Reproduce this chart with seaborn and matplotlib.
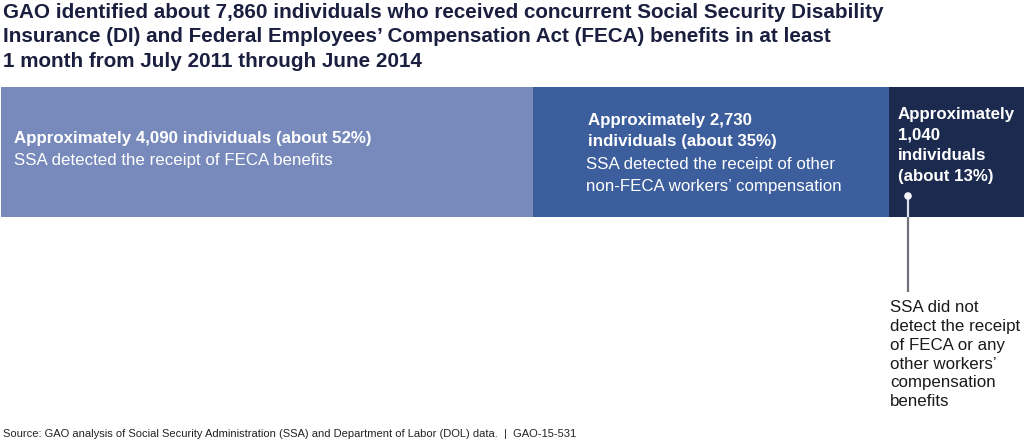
import pandas as pd
import seaborn as sns
import matplotlib.pyplot as plt

# ------------------------------------------
# data
# ------------------------------------------
groups = ["FECA detected", "Other WC detected", "Not detected"]
counts = [4090, 2730, 1040]
total = 7860
colors = ["#778abb", "#3c5e9c", "#1b2a4e"]

bold_labels = [
    ["Approximately 4,090 individuals (about 52%)"],
    ["Approximately 2,730", "individuals (about 35%)"],
    ["Approximately", "1,040", "individuals", "(about 13%)"],
]
sub_labels = [
    ["SSA detected the receipt of FECA benefits"],
    ["SSA detected the receipt of other", "non-FECA workers\u2019 compensation"],
    [],
]
callout = ["SSA did not", "detect the receipt", "of FECA or any",
           "other workers\u2019", "compensation", "benefits"]

title_lines = [
    "GAO identified about 7,860 individuals who received concurrent Social Security Disability",
    "Insurance (DI) and Federal Employees\u2019 Compensation Act (FECA) benefits in at least",
    "1 month from July 2011 through June 2014",
]
source = ("Source: GAO analysis of Social Security Administration (SSA) and "
          "Department of Labor (DOL) data.  |  GAO-15-531")

# cumulative ends for the stacked look (draw longest first)
cum = pd.Series(counts).cumsum().tolist()
df = pd.DataFrame({"group": groups, "end": cum, "color": colors})

sns.set_theme(style="white")
plt.rcParams["font.family"] = ["Liberation Sans", "DejaVu Sans"]

W, H = 1024, 442
fig = plt.figure(figsize=(W / 100, H / 100), dpi=100)

# bar axes (pixel box 1..1024 x 87..217)
ax = fig.add_axes([1 / W, 1 - 217 / H, 1023 / W, 130 / H])
for i in reversed(range(len(df))):
    row = df.iloc[i]
    sns.barplot(x=[row["end"]], y=[""], orient="h", color=row["color"],
                width=1, saturation=1, ax=ax, edgecolor="none")
ax.set_xlim(0, total)
ax.set_ylim(0.5, -0.5)
ax.axis("off")

# overlay in pixel coordinates for text
ov = fig.add_axes([0, 0, 1, 1], facecolor="none")
ov.set_xlim(0, W)
ov.set_ylim(H, 0)
ov.axis("off")

# title
for k, line in enumerate(title_lines):
    ov.text(3, 12.5 + k * 24.4, line, fontsize=14.9, fontweight="bold",
            color="#1b1f3f", va="center", ha="left")

body = 12.2
white = "white"

# segment 1
ov.text(14, 138, bold_labels[0][0], fontsize=body, fontweight="bold", color=white, va="center")
ov.text(14, 161, sub_labels[0][0], fontsize=body, color=white, va="center")

# segment 2
for k, line in enumerate(bold_labels[1]):
    ov.text(588, 120 + k * 21.5, line, fontsize=body, fontweight="bold", color=white, va="center")
for k, line in enumerate(sub_labels[1]):
    ov.text(586, 165 + k * 21.5, line, fontsize=body, color=white, va="center")

# segment 3
for k, line in enumerate(bold_labels[2]):
    ov.text(898, 114 + k * 21, line, fontsize=body, fontweight="bold", color=white, va="center")

# callout line and dot
ov.plot([908, 908], [196, 217], color="#d9dde6", lw=1.6, solid_capstyle="butt")
ov.plot([908, 908], [217, 292], color="#6f737a", lw=1.6, solid_capstyle="butt")
ov.scatter([908], [196], s=30, color="#f2f4f8", zorder=5, edgecolors="none")

for k, line in enumerate(callout):
    ov.text(890, 308 + k * 18.7, line, fontsize=body, color="#1a1a1a", va="center")

# source
ov.text(3, 434, source, fontsize=8.0, color="#222222", va="center")

fig.savefig("out.png", dpi=100)
